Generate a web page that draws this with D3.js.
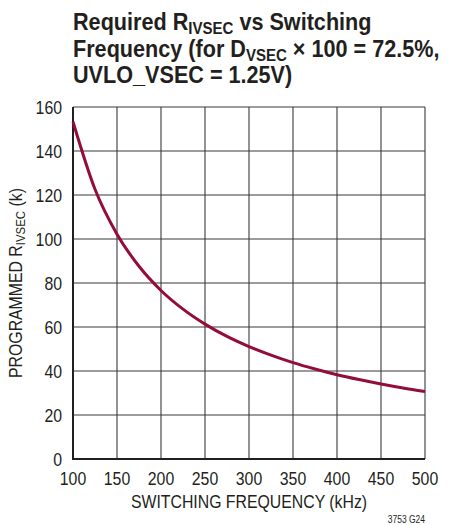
<!DOCTYPE html>
<html>
<head>
<meta charset="utf-8">
<script src="https://cdn.jsdelivr.net/npm/d3@7"></script>
<style>
  body { margin: 0; background: #fff; }
  text { font-family: "Liberation Sans", Arial, sans-serif; fill: #231f20; }
</style>
</head>
<body>
<div id="chart"></div>
<script>
// switching frequency (kHz) and required R_IVSEC (k)
const freq = [100, 125, 150, 175, 200, 225, 250, 275, 300, 325, 350, 375, 400, 425, 450, 475, 500];
const rivsec = [153.3, 122.6, 102.2, 87.6, 76.6, 68.1, 61.3, 55.7, 51.1, 47.2, 43.8, 40.9, 38.3, 36.1, 34.1, 32.3, 30.7];
const xTicks = [100, 150, 200, 250, 300, 350, 400, 450, 500];
const yTicks = [0, 20, 40, 60, 80, 100, 120, 140, 160];

const width = 453;
const height = 525;
const margin = { top: 107, right: 28, bottom: 66, left: 73 };

const svg = d3.select('#chart')
    .append('svg')
    .attr('width', width)
    .attr('height', height);

const x = d3.scaleLinear()
    .domain([100, 500])
    .range([margin.left, width - margin.right]);

const y = d3.scaleLinear()
    .domain([0, 160])
    .range([height - margin.bottom, margin.top]);

// no narrow font installed, so squeeze text horizontally
function narrowText(tx, ty, sx, rot) {
    const g = svg.append('g')
        .attr('transform', `translate(${tx},${ty}) rotate(${rot || 0}) scale(${sx},1)`);
    return g.append('text');
}

// title
const tsx = 0.94;
let t1 = narrowText(73, 30, tsx).attr('font-size', '23px').attr('font-weight', 'bold');
t1.append('tspan').text('Required R');
t1.append('tspan').attr('font-size', '16px').attr('dy', 4).text('IVSEC');
t1.append('tspan').attr('dy', -4).text(' vs Switching');

let t2 = narrowText(73, 57, tsx).attr('font-size', '23px').attr('font-weight', 'bold');
t2.append('tspan').text('Frequency (for D');
t2.append('tspan').attr('font-size', '16px').attr('dy', 4).text('VSEC');
t2.append('tspan').attr('dy', -4).text(' \u00d7 100 = 72.5%,');

narrowText(73, 83, tsx).attr('font-size', '23px').attr('font-weight', 'bold')
    .text('UVLO_VSEC = 1.25V)');

// grid
svg.append('g')
    .selectAll('line')
    .data(xTicks)
    .join('line')
    .attr('x1', d => x(d)).attr('x2', d => x(d))
    .attr('y1', y(0)).attr('y2', y(160))
    .attr('stroke', '#4a4a4a')
    .attr('stroke-width', 1.2);

svg.append('g')
    .selectAll('line')
    .data(yTicks)
    .join('line')
    .attr('x1', x(100)).attr('x2', x(500))
    .attr('y1', d => y(d)).attr('y2', d => y(d))
    .attr('stroke', '#3a3a3a')
    .attr('stroke-width', 1.2);

// frame: left and bottom heavier
svg.append('path')
    .attr('d', `M${x(100)},${y(160)}V${y(0)}H${x(500)}`)
    .attr('fill', 'none')
    .attr('stroke', '#231f20')
    .attr('stroke-width', 2);

// tick labels
yTicks.forEach(d => {
    narrowText(62, y(d) + 6.5, 0.88).attr('font-size', '18px')
        .attr('text-anchor', 'end').text(d);
});
xTicks.forEach(d => {
    narrowText(x(d), 485, 0.88).attr('font-size', '18px')
        .attr('text-anchor', 'middle').text(d);
});

// axis titles
narrowText(x(300), 508, 0.88).attr('font-size', '18px')
    .attr('text-anchor', 'middle').text('SWITCHING FREQUENCY (kHz)');

const yl = narrowText(22, (y(0) + y(160)) / 2, 0.88, -90)
    .attr('font-size', '18px').attr('text-anchor', 'middle');
yl.append('tspan').text('PROGRAMMED R');
yl.append('tspan').attr('font-size', '13px').attr('dy', 3).text('IVSEC');
yl.append('tspan').attr('dy', -3).text(' (k)');

narrowText(425, 523, 0.85).attr('font-size', '10px')
    .attr('text-anchor', 'end').text('3753 G24');

// curve
const line = d3.line()
    .x((d, i) => x(freq[i]))
    .y(d => y(d))
    .curve(d3.curveMonotoneX);

svg.append('path')
    .datum(rivsec)
    .attr('d', line)
    .attr('fill', 'none')
    .attr('stroke', '#930d38')
    .attr('stroke-width', 3);
</script>
</body>
</html>
